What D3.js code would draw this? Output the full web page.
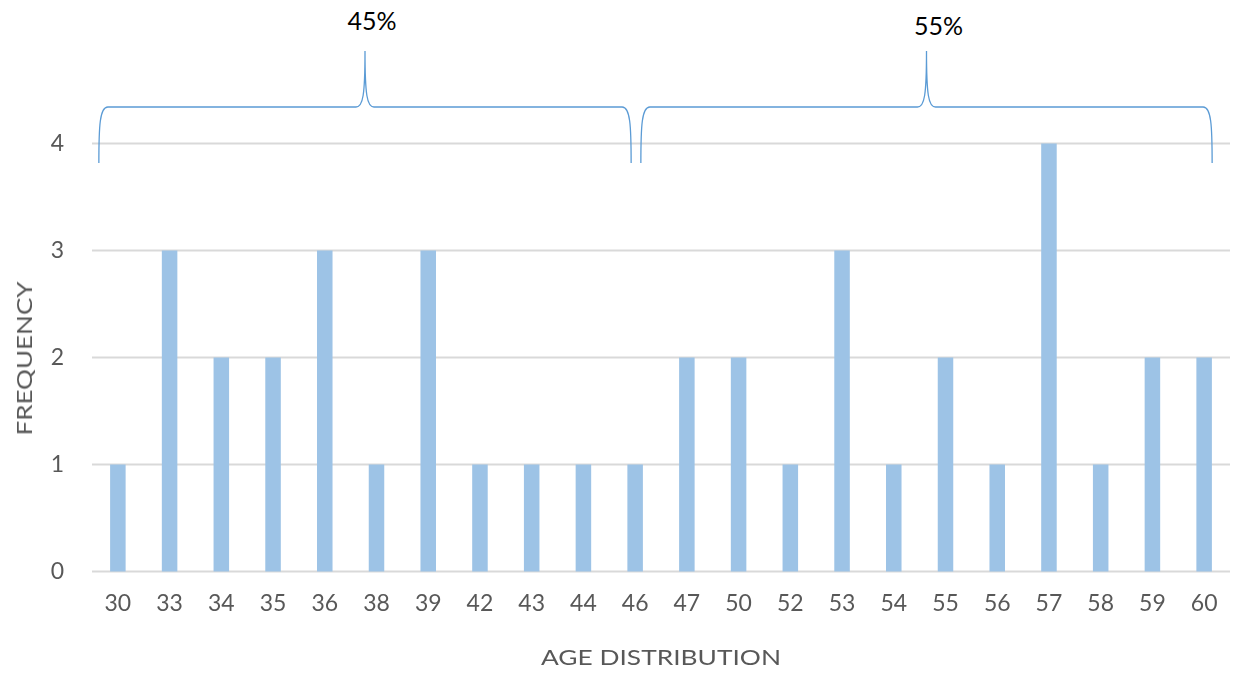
<!DOCTYPE html>
<html>
<head>
<meta charset="utf-8">
<script src="https://cdn.jsdelivr.net/npm/d3@7"></script>
<style>
  html, body { margin: 0; padding: 0; background: #fff; }
  svg { display: block; }
  text { font-family: Lato, "Open Sans", sans-serif; }
</style>
</head>
<body>
<svg id="chart" width="1233" height="675"></svg>
<script>
// Ages observed and how many respondents had each age
const ages = ["30","33","34","35","36","38","39","42","43","44","46","47","50","52","53","54","55","56","57","58","59","60"];
const frequency = [1,3,2,2,3,1,3,1,1,1,1,2,2,1,3,1,2,1,4,1,2,2];
const yTicks = [0,1,2,3,4];
// Age groups bracketed above the bars
const groupLabels = ["45%", "55%"];
const groupFirst = ["30", "47"];
const groupLast = ["46", "60"];

const svg = d3.select("#chart");
const margin = { left: 92, right: 3, top: 143.5, bottom: 103.5 };
const W = 1233, H = 675;

// soft text rendering
svg.append("defs").append("filter")
  .attr("id", "soft")
  .append("feGaussianBlur")
  .attr("stdDeviation", 0.55);

const x = d3.scaleBand()
  .domain(ages)
  .range([margin.left, W - margin.right])
  .paddingInner(0.7)
  .paddingOuter(0.35);

const y = d3.scaleLinear()
  .domain([0, 4])
  .range([H - margin.bottom, margin.top]);

const textGray = "#595959";

// horizontal gridlines
svg.append("g")
  .selectAll("line")
  .data(yTicks)
  .join("line")
  .attr("x1", margin.left)
  .attr("x2", W - margin.right)
  .attr("y1", d => y(d))
  .attr("y2", d => y(d))
  .attr("stroke", "#d9d9d9")
  .attr("stroke-width", 2);

// y axis labels
const yAxis = d3.axisLeft(y).tickValues(yTicks).tickSize(0).tickPadding(28).tickFormat(d3.format("d"));
const gy = svg.append("g").attr("transform", `translate(${margin.left},0)`).call(yAxis);
gy.select(".domain").remove();
gy.selectAll("text")
  .attr("fill", textGray)
  .attr("font-size", 23)
  .attr("font-family", "Lato, 'Open Sans', sans-serif")
  .attr("filter", "url(#soft)");

// x axis labels
const xAxis = d3.axisBottom(x).tickSize(0).tickPadding(23);
const gx = svg.append("g").attr("transform", `translate(0,${y(0)})`).call(xAxis);
gx.select(".domain").remove();
gx.selectAll("text")
  .attr("fill", textGray)
  .attr("font-size", 23)
  .attr("font-family", "Lato, 'Open Sans', sans-serif")
  .attr("filter", "url(#soft)");

// bars
svg.append("g")
  .selectAll("rect")
  .data(ages.map((a, i) => ({ age: a, n: frequency[i] })))
  .join("rect")
  .attr("x", d => x(d.age))
  .attr("width", x.bandwidth())
  .attr("y", d => y(d.n))
  .attr("height", d => y(0) - y(d.n))
  .attr("fill", "#9dc3e6");

// axis titles
svg.append("text")
  .attr("x", 661)
  .attr("y", 665)
  .attr("text-anchor", "middle")
  .attr("fill", textGray)
  .attr("font-size", 22)
  .attr("textLength", 240)
  .attr("lengthAdjust", "spacingAndGlyphs")
  .attr("filter", "url(#soft)")
  .text("AGE DISTRIBUTION");

svg.append("text")
  .attr("transform", `translate(32,${(y(0) + y(4)) / 2 + 1}) rotate(-90)`)
  .attr("text-anchor", "middle")
  .attr("fill", textGray)
  .attr("font-size", 22)
  .attr("textLength", 154)
  .attr("lengthAdjust", "spacingAndGlyphs")
  .attr("filter", "url(#soft)")
  .text("FREQUENCY");

// curly brackets over each age group
const braceBase = 163, braceBar = 107, braceTip = 51;
const braceInset = [[-19, -4], [-46, 8]];
const labelShift = [[7, 30], [12, 35]];

function bracePath(x0, x1) {
  const xm = (x0 + x1) / 2, r = 9;
  return [
    `M${x0},${braceBase}`,
    `C${x0},${braceBar + 18} ${x0 + 1},${braceBar} ${x0 + r},${braceBar}`,
    `L${xm - r},${braceBar}`,
    `C${xm - 2},${braceBar} ${xm},${braceBar - 12} ${xm},${braceTip}`,
    `C${xm},${braceBar - 12} ${xm + 2},${braceBar} ${xm + r},${braceBar}`,
    `L${x1 - r},${braceBar}`,
    `C${x1 - 1},${braceBar} ${x1},${braceBar + 18} ${x1},${braceBase}`
  ].join(" ");
}

const cx = a => x(a) + x.bandwidth() / 2;
groupLabels.forEach((label, i) => {
  const x0 = cx(groupFirst[i]) + braceInset[i][0];
  const x1 = cx(groupLast[i]) + braceInset[i][1];
  svg.append("path")
    .attr("d", bracePath(x0, x1))
    .attr("fill", "none")
    .attr("stroke", "#5b9bd5")
    .attr("stroke-width", 1.3);
  svg.append("text")
    .attr("x", (x0 + x1) / 2 + labelShift[i][0])
    .attr("y", labelShift[i][1])
    .attr("text-anchor", "middle")
    .attr("fill", "#000")
    .attr("font-size", 25)
    .text(label);
});
</script>
</body>
</html>
